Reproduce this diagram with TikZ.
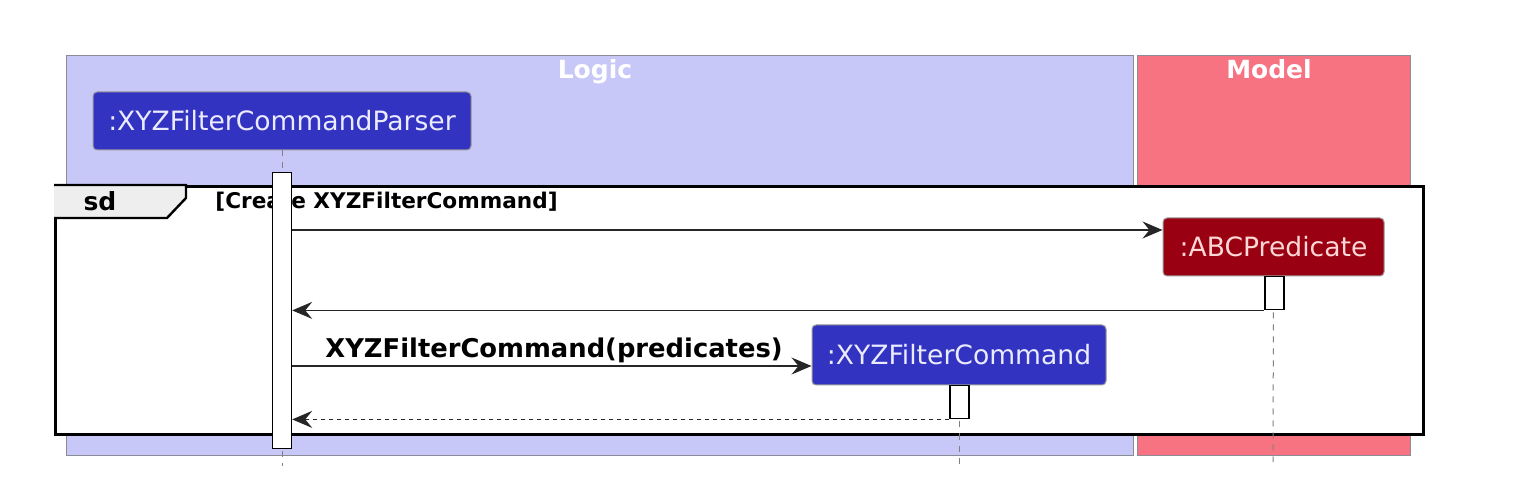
\documentclass[tikz,border=0pt]{standalone}
\usepackage{fontspec}
\setmainfont{DejaVu Sans}
\usetikzlibrary{arrows.meta}
\definecolor{logicfill}{RGB}{200,200,248}
\definecolor{modelfill}{RGB}{248,115,130}
\definecolor{boxborder}{RGB}{140,140,150}
\definecolor{partblue}{RGB}{51,51,194}
\definecolor{partred}{RGB}{153,0,17}
\definecolor{tabfill}{RGB}{238,238,238}
\definecolor{bluetext}{RGB}{235,235,255}
\definecolor{redtext}{RGB}{255,215,215}
\tikzset{
  x=0.5pt, y=-0.5pt,
  grp/.style={draw=boxborder, line width=0.6pt},
  grptitle/.style={font=\fontsize{12.5}{14}\selectfont\bfseries, text=white, inner sep=0pt, anchor=base},
  part/.style={rounded corners=2pt, draw=black!40, line width=0.5pt, inner sep=0pt,
     font=\fontsize{13.3}{15}\selectfont},
  actbox/.style={draw=black, fill=white, line width=0.7pt, inner sep=0pt, minimum width=9.5pt},
  life/.style={draw=black!50, line width=0.5pt, dash pattern=on 3pt off 3pt},
  msg/.style={draw=black!85, line width=0.6pt, -{Stealth[length=10pt,width=8.5pt,inset=3.5pt]}},
  ret/.style={msg, dash pattern=on 2pt off 2pt},
}
\begin{document}
\begin{tikzpicture}
\useasboundingbox (0,0) rectangle (1520,496);
% groups
\node[grp, fill=logicfill, minimum width=533.5pt, minimum height=200pt, anchor=north west, inner sep=0pt] (logic) at (66,55) {};
\node[grp, fill=modelfill, minimum width=136.5pt, minimum height=200pt, anchor=north west, inner sep=0pt] (model) at (1137,55) {};
\node[grptitle] (logict) at (595,79) {Logic};
\node[grptitle] (modelt) at (1269,79) {Model};
% participant parser
\node[part, fill=partblue, text=bluetext, minimum width=189pt, minimum height=29pt] (parser) at (282,121) {:XYZFilterCommandParser};
% sd frame
\node[draw=black, line width=1.5pt, fill=white, minimum width=684pt, minimum height=124pt, anchor=north west, inner sep=0pt] (frame) at (54,185) {};
\fill[tabfill, draw=black, line width=1.2pt] (frame.north west) -- (186,185) -- (186,198) -- (167,218) -- (54,218);
\node[font=\fontsize{12.5}{14}\selectfont\bfseries, inner sep=0pt, anchor=base] (sdl) at (100,211) {sd};
\node[font=\fontsize{10.8}{13}\selectfont\bfseries, inner sep=0pt, anchor=base west] (guard) at (215,209) {[Create XYZFilterCommand]};
% participants created
\node[part, fill=partred, text=redtext, minimum width=110.5pt, minimum height=29pt] (abc) at (1273.5,247) {:ABCPredicate};
\node[part, fill=partblue, text=bluetext, minimum width=147pt, minimum height=30pt] (xyz) at (959,355) {:XYZFilterCommand};
% lifelines
\coordinate (pend) at (282,466);
\coordinate (aend) at (1273,462);
\coordinate (xend) at (959,466);
\draw[life] (parser.south) -- (pend);
\draw[life] (abc.south) -- (aend);
\draw[life] (xyz.south) -- (xend);
% activations
\node[actbox, minimum height=138pt, anchor=north] (pact) at (282,172) {};
\node[actbox, minimum height=16.5pt, anchor=north] (aact) at (1274.5,276) {};
\node[actbox, minimum height=16.5pt, anchor=north] (xact) at (959.5,385) {};
% messages
\coordinate (m1) at (0,230);
\coordinate (m3) at (0,366);
\draw[msg] (pact.east |- m1) -- (abc.west |- m1);
\draw[msg] (aact.south west) -- (pact.east |- aact.south);
\draw[msg] (pact.east |- m3) -- (xyz.west |- m3);
\node[font=\fontsize{12.9}{15}\selectfont\bfseries, inner sep=0pt, anchor=base west] (m3l) at (325,358) {XYZFilterCommand(predicates)};
\draw[ret] (xact.south west) -- (pact.east |- xact.south);
\end{tikzpicture}
\end{document}
